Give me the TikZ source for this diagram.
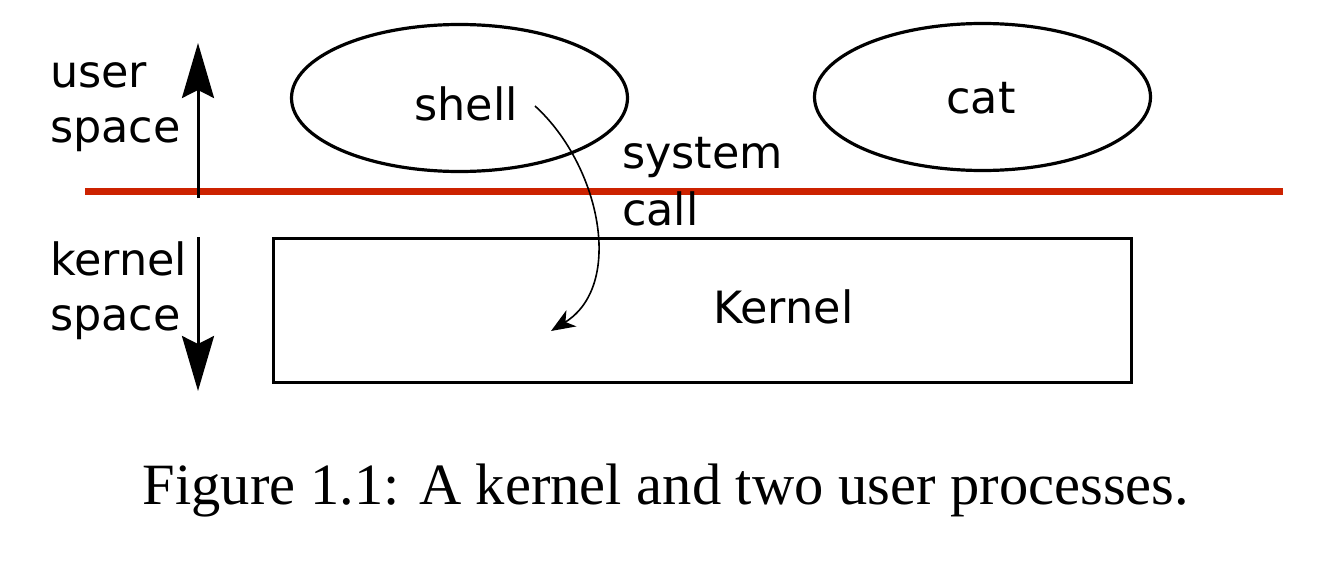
\documentclass[tikz,border=0pt]{standalone}
\usepackage{fontspec}
\setmainfont{DejaVu Sans}
\newfontfamily\capfont{Liberation Serif}
\usetikzlibrary{arrows.meta,shapes.geometric}
\definecolor{boundary}{RGB}{204,34,0}
\tikzset{
  lbl/.style={inner sep=0pt, anchor=base west, font=\fontsize{44.5}{53}\selectfont},
  ctext/.style={inner sep=0pt, anchor=base, font=\fontsize{44.5}{53}\selectfont},
  proc/.style={draw, ellipse, line width=3.2pt, minimum width=336pt, minimum height=147pt, inner sep=0pt},
  kbox/.style={draw, rectangle, line width=3.2pt, minimum width=858pt, minimum height=144pt, inner sep=0pt},
  bigarrow/.style={line width=3pt, -{Stealth[length=55pt,width=32pt,inset=8pt]}},
  callarrow/.style={line width=1.6pt, -{Stealth[length=24pt,width=19pt,inset=7pt]}}
}
\begin{document}
\begin{tikzpicture}[x=1pt,y=-1pt]
\useasboundingbox (0,0) rectangle (1325,565);
% boundary line
\coordinate (redL) at (85,191.5);
\coordinate (redR) at (1283,191.5);
\draw[boundary, line width=7pt] (redL) -- (redR);
% processes
\node[proc] (shell) at (459.5,98) {};
\node[proc] (cat) at (982.5,97) {};
\node[ctext] (shelltxt) at (466,120) {shell};
\node[ctext] (cattxt) at (981,113) {cat};
% kernel
\node[kbox] (kernel) at (702.5,310.5) {};
\node[ctext] (kerneltxt) at (783.5,323) {Kernel};
% side labels
\node[lbl] (u1) at (50,87) {user};
\node[lbl] (u2) at (50,142) {space};
\node[lbl] (k1) at (50,275) {kernel};
\node[lbl] (k2) at (50,330) {space};
% side arrows
\coordinate (upS) at (198,198);
\coordinate (upT) at (198,43);
\coordinate (dnS) at (198,237);
\coordinate (dnT) at (198,391);
\draw[bigarrow] (upS) -- (upT);
\draw[bigarrow] (dnS) -- (dnT);
% system call
\node[lbl] (sys1) at (622,168) {system};
\node[lbl] (sys2) at (622,225) {call};
\coordinate (scS) at (535,106);
\coordinate (scE) at (551,331);
\draw[callarrow] (scS) .. controls (600,165) and (625,285) .. (scE);
% caption
\node[inner sep=0pt, anchor=base, font=\capfont\fontsize{58.5}{68}\selectfont] (caption) at (666,504) {Figure 1.1: A kernel and two user processes.};
\end{tikzpicture}
\end{document}
